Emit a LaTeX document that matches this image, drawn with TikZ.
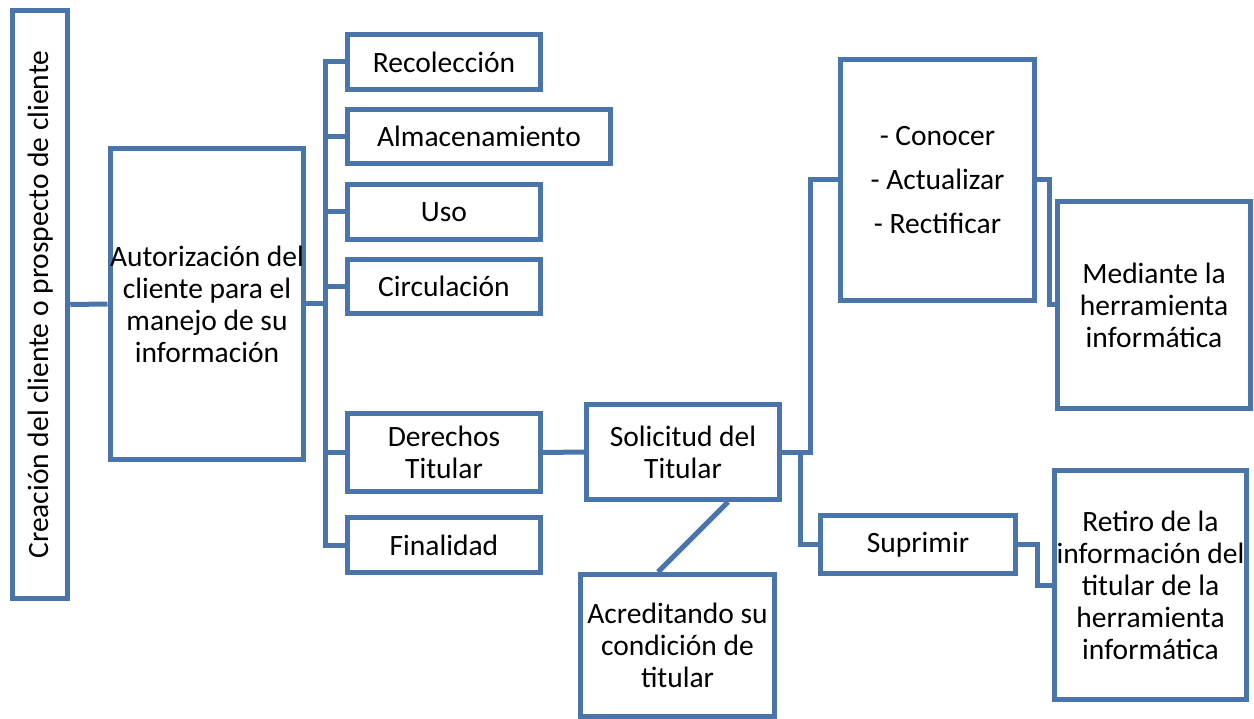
\documentclass[tikz,border=0pt]{standalone}
\usepackage{fontspec}
\setmainfont{Carlito}
\definecolor{lineblue}{RGB}{74,117,171}
\begin{document}
\begin{tikzpicture}[x=1pt,y=-1pt,
  box/.style={draw=lineblue,line width=5pt,fill=white,inner sep=0pt,align=center,
    font=\fontsize{29.5}{32}\selectfont,text=black},
  conn/.style={draw=lineblue,line width=5pt}]
\useasboundingbox (0,0) rectangle (1254,719);
% nodes
\node[box,minimum width=55,minimum height=588] (crea) at (40.25,304.5) {};
\node[font=\fontsize{29.5}{32}\selectfont,rotate=90] (creat) at (crea.center) {Creación del cliente o prospecto de cliente};
\node[box,minimum width=193,minimum height=311] (auto) at (207,304) {Autorización del\\cliente para el\\manejo de su\\información};
\node[box,minimum width=193,minimum height=55] (rec) at (444,62) {Recolección};
\node[box,minimum width=263,minimum height=54] (alm) at (479,136.5) {Almacenamiento};
\node[box,minimum width=193,minimum height=55] (uso) at (444,212) {Uso};
\node[box,minimum width=193,minimum height=54] (cir) at (444,286.5) {Circulación};
\node[box,minimum width=193,minimum height=78] (der) at (444,452.5) {Derechos\\Titular};
\node[box,minimum width=193,minimum height=55] (fin) at (444,545) {Finalidad};
\node[box,minimum width=193,minimum height=95] (sol) at (683,452) {Solicitud del\\Titular};
\node[box,minimum width=194,minimum height=142] (acr) at (677.5,645.5) {Acreditando su\\condición de\\titular};
\node[box,minimum width=194,minimum height=241] (con) at (937.5,180) {- Conocer\\[12pt]- Actualizar\\[12pt]- Rectificar};
\node[box,minimum width=193,minimum height=207] (med) at (1154,305) {Mediante la\\herramienta\\informática};
\node[box,minimum width=195,minimum height=58] (sup) at (918,544.5) {Suprimir};
\node[box,minimum width=192,minimum height=229] (ret) at (1150.5,585) {Retiro de la\\información del\\titular de la\\herramienta\\informática};
% connectors
\draw[conn] (crea.east) -- (auto.west);
\draw[conn] (auto.east) -- ++(21,0);
\draw[conn] (rec.west) -- ++(-20,0) |- (fin.west);
\draw[conn] (alm.west) -- ++(-20,0);
\draw[conn] (uso.west) -- ++(-20,0);
\draw[conn] (cir.west) -- ++(-20,0);
\draw[conn] (der.west) -- ++(-20,0);
\draw[conn] (der.east) -- (sol.west);
\draw[conn] (sol.east) -- ++(28,0) |- (con.west);
\draw[conn] ([xshift=18]sol.east) |- (sup.west);
\draw[conn] (con.east) -- ++(12,0) |- (med.west);
\draw[conn] (sup.east) -- ++(19.5,0) |- (ret.west);
\draw[conn] ([xshift=45]sol.south) -- ([xshift=-19.5]acr.north);
\end{tikzpicture}
\end{document}
